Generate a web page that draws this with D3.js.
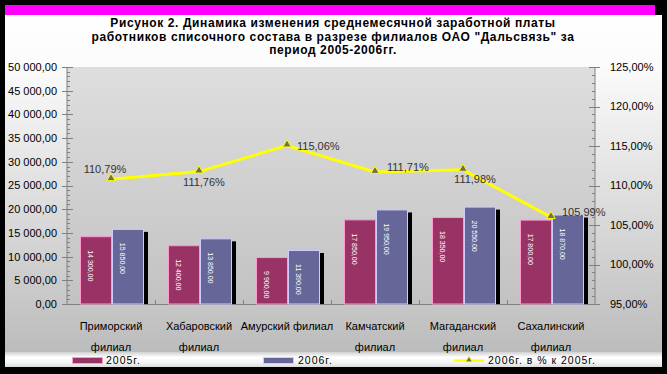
<!DOCTYPE html>
<html>
<head>
<meta charset="utf-8">
<script src="https://cdn.jsdelivr.net/npm/d3@7"></script>
<style>
  html, body { margin: 0; padding: 0; background: #000; }
  svg { display: block; font-family: "Liberation Sans", Arial, sans-serif; }
</style>
</head>
<body>
<svg id="svgcanvas" width="667" height="374"></svg>
<script>

/****************************************************************************
 *  data
 ****************************************************************************/
var categories = [
  'Приморский\nфилиал',
  'Хабаровский\nфилиал',
  'Амурский филиал',
  'Камчатский\nфилиал',
  'Магаданский\nфилиал',
  'Сахалинский\nфилиал'
];
var seriesNames = ['2005г.', '2006г.', '2006г. в % к 2005г.'];
var values2005 = [14300, 12400, 9900, 17850, 18350, 17800];
var values2006 = [15850, 13850, 11390, 19950, 20550, 18870];
var percent = [110.79, 111.76, 115.06, 111.71, 111.98, 105.99];
var leftTicks = [0, 5000, 10000, 15000, 20000, 25000, 30000, 35000, 40000, 45000, 50000];
var rightTicks = [95, 100, 105, 110, 115, 120, 125];
var titleLines = [
  'Рисунок 2. Динамика изменения среднемесячной заработной платы',
  'работников списочного состава в разрезе филиалов ОАО "Дальсвязь" за',
  'период  2005-2006гг.'
];

/****************************************************************************
 *  layout / style
 ****************************************************************************/
var W = 667, H = 374;
var plot = { left: 67, right: 595, top: 67, bottom: 304 };
var colors = { c2005: '#993366', e2005: '#ff99cc', c2006: '#666699', e2006: '#ccccff', line: '#ffff00' };
// label offsets for the percent labels, relative to each point
var labelPos = [
  { dx: -6, dy: -9, anchor: 'middle' },
  { dx: 5, dy: 11, anchor: 'middle' },
  { dx: 10, dy: 2, anchor: 'start' },
  { dx: 12, dy: -4, anchor: 'start' },
  { dx: 12, dy: 10, anchor: 'middle' },
  { dx: 11, dy: -4, anchor: 'start' }
];

var ru = d3.formatLocale({ decimal: ',', thousands: '\u00a0', grouping: [3], currency: ['', ''] });
var fmtMoney = ru.format(',.2f');
var fmtPct = function(v) { return ru.format('.2f')(v) + '%'; };

var svg = d3.select('#svgcanvas');
var defs = svg.append('defs');

function vGrad(id, stops) {
  var g = defs.append('linearGradient').attr('id', id)
    .attr('x1', 0).attr('y1', 0).attr('x2', 0).attr('y2', 1);
  stops.forEach(function(s) {
    g.append('stop').attr('offset', s[0]).attr('stop-color', s[1]);
  });
}
vGrad('bgGrad', [[0, '#ffffff'], [0.15, '#fbfbfb'], [1, '#bcbcbc']]);
vGrad('plotGrad', [[0, '#dedede'], [1, '#c2c2c2']]);
vGrad('legGrad', [[0, '#d0d0d0'], [0.35, '#ffffff'], [0.7, '#f4f4f4'], [1, '#dcdcdc']]);

/****************************************************************************
 *  background
 ****************************************************************************/
svg.append('rect').attr('width', W).attr('height', H).attr('fill', '#000');
svg.append('rect').attr('x', 5).attr('y', 15).attr('width', 657).attr('height', 337)
  .attr('fill', 'url(#bgGrad)');
svg.append('rect').attr('x', 5).attr('y', 5).attr('width', 650).attr('height', 10)
  .attr('fill', '#ff00ff');
svg.append('rect').attr('x', 5).attr('y', 352).attr('width', 657).attr('height', 15)
  .attr('fill', 'url(#legGrad)');
svg.append('rect').attr('x', plot.left).attr('y', plot.top)
  .attr('width', plot.right - plot.left).attr('height', plot.bottom - plot.top)
  .attr('fill', 'url(#plotGrad)');

// title
svg.append('g').selectAll('text').data(titleLines).enter().append('text')
  .attr('x', 333).attr('y', function(d, i) { return 27 + i * 13.5; })
  .attr('text-anchor', 'middle')
  .attr('font-size', 12).attr('font-weight', 'bold').attr('letter-spacing', 0.6)
  .attr('fill', '#000')
  .text(function(d) { return d; });

/****************************************************************************
 *  scales
 ****************************************************************************/
var x0 = d3.scaleBand().domain(d3.range(categories.length))
  .range([plot.left, plot.right]).padding(0);
var x1 = d3.scaleBand().domain([0, 1]).range([1, x0.bandwidth() + 1])
  .paddingInner(0).paddingOuter(0.375);
var yL = d3.scaleLinear().domain([0, 50000]).range([plot.bottom, plot.top]);
var yR = d3.scaleLinear().domain([95, 125]).range([plot.bottom, plot.top]);

/****************************************************************************
 *  axes
 ****************************************************************************/
var axisColor = '#808080';
var gAx = svg.append('g');

// left axis
gAx.append('line').attr('x1', plot.left).attr('x2', plot.left)
  .attr('y1', plot.top).attr('y2', plot.bottom).attr('stroke', axisColor);
gAx.selectAll('.lminor').data(d3.range(0, 50001, 1000)).enter().append('line')
  .attr('x1', plot.left).attr('x2', plot.left + 3)
  .attr('y1', function(d) { return Math.round(yL(d)) + 0.5; })
  .attr('y2', function(d) { return Math.round(yL(d)) + 0.5; })
  .attr('stroke', axisColor);
gAx.selectAll('.lmajor').data(leftTicks).enter().append('line')
  .attr('x1', plot.left - 5).attr('x2', plot.left + 6)
  .attr('y1', function(d) { return Math.round(yL(d)) + 0.5; })
  .attr('y2', function(d) { return Math.round(yL(d)) + 0.5; })
  .attr('stroke', axisColor);
gAx.selectAll('.llab').data(leftTicks).enter().append('text')
  .attr('x', plot.left - 10).attr('y', function(d) { return yL(d) + 1; })
  .attr('text-anchor', 'end').attr('dominant-baseline', 'middle')
  .attr('font-size', 11).attr('fill', '#000')
  .text(function(d) { return fmtMoney(d); });

// right axis
gAx.append('line').attr('x1', plot.right).attr('x2', plot.right)
  .attr('y1', plot.top).attr('y2', plot.bottom).attr('stroke', axisColor);
gAx.selectAll('.rminor').data(d3.range(95, 125.01, 1)).enter().append('line')
  .attr('x1', plot.right - 3).attr('x2', plot.right)
  .attr('y1', function(d) { return Math.round(yR(d)) + 0.5; })
  .attr('y2', function(d) { return Math.round(yR(d)) + 0.5; })
  .attr('stroke', axisColor);
gAx.selectAll('.rmajor').data(rightTicks).enter().append('line')
  .attr('x1', plot.right - 6).attr('x2', plot.right + 5)
  .attr('y1', function(d) { return Math.round(yR(d)) + 0.5; })
  .attr('y2', function(d) { return Math.round(yR(d)) + 0.5; })
  .attr('stroke', axisColor);
gAx.selectAll('.rlab').data(rightTicks).enter().append('text')
  .attr('x', plot.right + 15).attr('y', function(d) { return yR(d) + 1; })
  .attr('dominant-baseline', 'middle')
  .attr('font-size', 11).attr('fill', '#000')
  .text(function(d) { return fmtPct(d); });

// x axis
gAx.append('line').attr('x1', plot.left).attr('x2', plot.right + 3)
  .attr('y1', plot.bottom + 0.5).attr('y2', plot.bottom + 0.5).attr('stroke', axisColor);
gAx.selectAll('.xtick').data(d3.range(1, categories.length)).enter().append('line')
  .attr('x1', function(d) { return x0(d) + 0.5; })
  .attr('x2', function(d) { return x0(d) + 0.5; })
  .attr('y1', plot.bottom - 4).attr('y2', plot.bottom)
  .attr('stroke', axisColor);

var catLab = svg.append('g').selectAll('text').data(categories).enter().append('text')
  .attr('text-anchor', 'middle').attr('font-size', 11).attr('fill', '#000')
  .attr('x', function(d, i) { return x0(i) + x0.bandwidth() / 2; });
catLab.selectAll('tspan').data(function(d, i) {
    return d.split('\n').map(function(s) { return { s: s, i: i }; });
  }).enter().append('tspan')
  .attr('x', function(d) { return x0(d.i) + x0.bandwidth() / 2; })
  .attr('y', function(d, j) { return 330 + j * 21; })
  .text(function(d) { return d.s; });

/****************************************************************************
 *  bars
 ****************************************************************************/
var rows = categories.map(function(c, i) {
  return { i: i, v: [values2005[i], values2006[i]] };
});
var gBars = svg.append('g');

// shadow behind the 2006 bars
gBars.selectAll('.shadow').data(rows).enter().append('rect')
  .attr('x', function(d) { return x0(d.i) + x1(1) + 4; })
  .attr('y', function(d) { return yL(d.v[1]) + 3; })
  .attr('width', x1.bandwidth())
  .attr('height', function(d) { return plot.bottom - yL(d.v[1]) - 3; })
  .attr('fill', '#000');

[0, 1].forEach(function(s) {
  gBars.selectAll('.bar' + s).data(rows).enter().append('rect')
    .attr('x', function(d) { return x0(d.i) + x1(s) + 0.5; })
    .attr('y', function(d) { return yL(d.v[s]) + 0.5; })
    .attr('width', x1.bandwidth() - 1)
    .attr('height', function(d) { return plot.bottom - yL(d.v[s]) - 0.5; })
    .attr('fill', s ? colors.c2006 : colors.c2005)
    .attr('stroke', s ? colors.e2006 : colors.e2005).attr('stroke-width', 1);

  gBars.selectAll('.val' + s).data(rows).enter().append('text')
    .attr('transform', function(d) {
      return 'translate(' + (x0(d.i) + x1(s) + 8) + ',' + (yL(d.v[s]) + 14) + ') rotate(90)';
    })
    .attr('font-size', 7).attr('fill', '#fff')
    .text(function(d) { return fmtMoney(d.v[s]); });
});

/****************************************************************************
 *  percent line
 ****************************************************************************/
var pts = percent.map(function(p, i) {
  return { x: x0(i) + x0.bandwidth() / 2, y: yR(p), p: p, i: i };
});
svg.append('path').datum(pts)
  .attr('d', d3.line().x(function(d) { return d.x; }).y(function(d) { return d.y; }))
  .attr('fill', 'none').attr('stroke', colors.line).attr('stroke-width', 3);

var tri = d3.symbol().type(d3.symbolTriangle).size(30);
svg.append('g').selectAll('path').data(pts).enter().append('path')
  .attr('d', tri)
  .attr('transform', function(d) { return 'translate(' + d.x + ',' + (d.y - 1) + ')'; })
  .attr('fill', '#6e6e50').attr('stroke', colors.line).attr('stroke-width', 1);

svg.append('g').selectAll('text').data(pts).enter().append('text')
  .attr('x', function(d) { return d.x + labelPos[d.i].dx; })
  .attr('y', function(d) { return d.y + labelPos[d.i].dy; })
  .attr('text-anchor', function(d) { return labelPos[d.i].anchor; })
  .attr('dominant-baseline', 'middle')
  .attr('font-size', 11).attr('fill', '#333')
  .text(function(d) { return fmtPct(d.p); });

/****************************************************************************
 *  legend
 ****************************************************************************/
var gLeg = svg.append('g');
var legY = 360.5;
gLeg.append('rect').attr('x', 72.5).attr('y', legY - 3).attr('width', 30).attr('height', 6)
  .attr('fill', colors.c2005).attr('stroke', colors.e2005);
gLeg.append('rect').attr('x', 263.5).attr('y', legY - 3).attr('width', 30).attr('height', 6)
  .attr('fill', colors.c2006).attr('stroke', colors.e2006);
gLeg.append('line').attr('x1', 454).attr('x2', 484).attr('y1', legY).attr('y2', legY)
  .attr('stroke', colors.line).attr('stroke-width', 2);
gLeg.append('path').attr('d', d3.symbol().type(d3.symbolTriangle).size(18))
  .attr('transform', 'translate(469,' + (legY - 0.5) + ')')
  .attr('fill', '#6e6e50').attr('stroke', colors.line).attr('stroke-width', 0.8);
gLeg.selectAll('text').data(seriesNames).enter().append('text')
  .attr('x', function(d, i) { return [106, 298, 488][i]; })
  .attr('y', legY + 1)
  .attr('dominant-baseline', 'middle')
  .attr('font-size', 10.5).attr('letter-spacing', 1).attr('fill', '#000')
  .text(function(d) { return d; });

</script>
</body>
</html>
